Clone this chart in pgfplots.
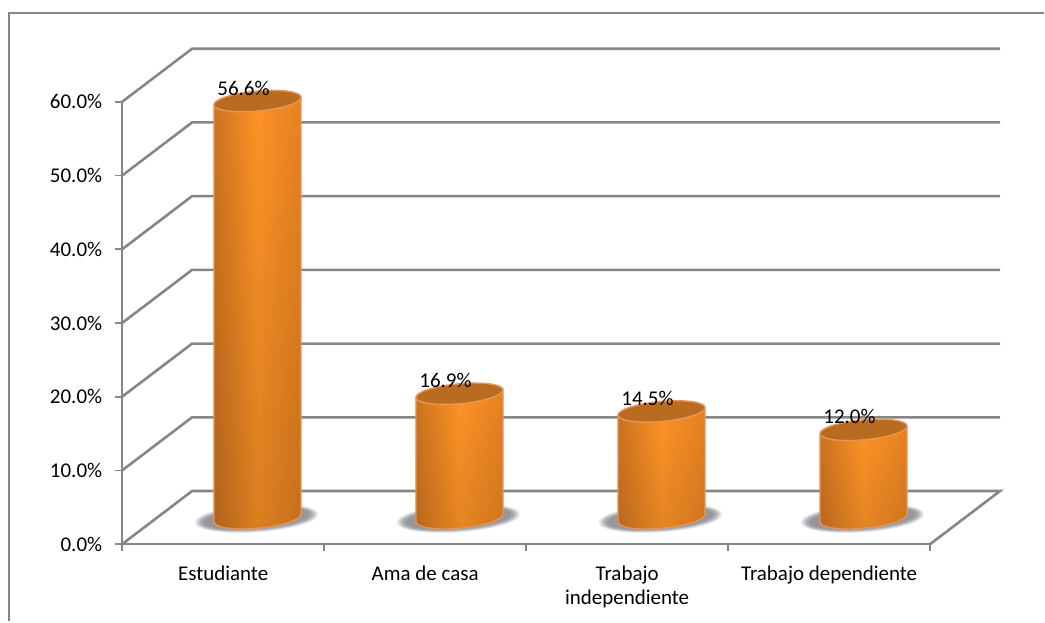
\documentclass[border=0pt]{standalone}
\usepackage{fontspec}
\setmainfont{Carlito}
\usepackage{pgfplots}
\pgfplotsset{compat=1.18}
\usetikzlibrary{fadings}
\definecolor{gridc}{HTML}{868686}
\definecolor{edgec}{HTML}{E8955A}
\definecolor{topc}{HTML}{B96B20}
\definecolor{cyla}{HTML}{99541A}
\definecolor{cylb}{HTML}{C8701F}
\definecolor{cylc}{HTML}{FF9426}
\definecolor{cyld}{HTML}{E68222}
\definecolor{cyle}{HTML}{7A4512}
\definecolor{sha}{HTML}{ECECEE}
\definecolor{shb}{HTML}{D2D2D6}
\definecolor{shc}{HTML}{BABABF}
\definecolor{shd}{HTML}{A6A6AD}
\definecolor{she}{HTML}{96969E}
\pgfdeclarehorizontalshading{cyl}{100bp}{color(0bp)=(cyla); color(22bp)=(cylb); color(50bp)=(cylc); color(75bp)=(cyld); color(100bp)=(cyle)}
\pgfdeclareplotmark{cyltop}{%
  \pgfsetfillcolor{topc}\pgfsetstrokecolor{edgec}\pgfsetlinewidth{1.4pt}%
  \pgfpathellipse{\pgfpointorigin}{\pgfpoint{43.62pt}{3.97pt}}{\pgfpoint{-0.906pt}{9.96pt}}\pgfusepathqfillstroke}
\newcommand\shadowellipse[3]{\pgfsetfillcolor{#1}\pgfpathellipse{\pgfpoint{-1pt}{0pt}}{\pgfpoint{#2pt}{4.3pt}}{\pgfpoint{-1pt}{#3pt}}\pgfusepathqfill}
\pgfdeclareplotmark{cylshadow}{%
  \shadowellipse{sha}{62}{14}\shadowellipse{shb}{60}{13.2}\shadowellipse{shc}{58}{12.4}\shadowellipse{shd}{56}{11.6}\shadowellipse{she}{53}{10.5}}
\begin{document}
\begin{tikzpicture}
% back axis: frame, walls, floor and shadows
\begin{axis}[
  hide axis,
  scale only axis, width=808.8pt, height=442.8pt,
  xmin=-0.5, xmax=3.5, ymin=0, ymax=60, clip=false,
]
\addplot[gridc,line width=2.2pt] coordinates {(-1.0603,-10.47) (-1.0603,72.05) (4.0633,72.05)};
\addplot[gridc,line width=2.6pt] coordinates {(3.5,0) (3.846,7.2) (-0.154,7.2) (-0.5,0)};
\addplot[gridc,line width=2.6pt] coordinates {(-0.5,10) (-0.154,17.2) (3.846,17.2)};
\addplot[gridc,line width=2.6pt] coordinates {(-0.5,20) (-0.154,27.2) (3.846,27.2)};
\addplot[gridc,line width=2.6pt] coordinates {(-0.5,30) (-0.154,37.2) (3.846,37.2)};
\addplot[gridc,line width=2.6pt] coordinates {(-0.5,40) (-0.154,47.2) (3.846,47.2)};
\addplot[gridc,line width=2.6pt] coordinates {(-0.5,50) (-0.154,57.2) (3.846,57.2)};
\addplot[gridc,line width=2.6pt] coordinates {(-0.5,60) (-0.154,67.2) (3.846,67.2)};
\addplot[only marks,mark=cylshadow] coordinates {(0.17,3.5) (1.17,3.5) (2.17,3.5) (3.17,3.5)};
\end{axis}
% front axis: ticks, labels and cylinders
\begin{axis}[
  scale only axis, width=808.8pt, height=442.8pt,
  xmin=-0.5, xmax=3.5, ymin=0, ymax=60, clip=false,
  axis x line*=bottom, axis y line*=left,
  axis line style={draw=gridc,line width=2.4pt,-},
  tick align=outside,
  ytick={0,10,20,30,40,50,60},
  yticklabel={\pgfmathprintnumber[fixed,fixed zerofill,precision=1,assume math mode=true]{\tick}\%},
  ytick style={draw=gridc,line width=1.8pt},
  major tick length=7pt, minor tick length=7pt,
  xtick={0,1,2,3},
  xticklabels={Estudiante,Ama de casa,{Trabajo\\independiente},Trabajo dependiente},
  minor xtick={-0.5,0.5,1.5,2.5,3.5},
  major x tick style={draw=none},
  minor x tick style={draw=gridc,line width=1.8pt},
  xticklabel style={align=center,anchor=north,yshift=-11pt,font=\fontsize{21}{24}\selectfont},
  yticklabel style={font=\fontsize{21}{24}\selectfont,xshift=-9.5pt},
  nodes near coords style={font=\fontsize{21}{24}\selectfont},
]
% cylinder bodies
\addplot[shade,shading=cyl,draw=none] coordinates {(-0.0457,59.56) (-0.0457,2.962) (-0.0312,2.533) (0.0076,2.221) (0.0660,2.062) (0.1370,2.077) (0.2118,2.264) (0.2817,2.600) (0.3381,3.045) (0.3743,3.543) (0.3857,4.038) (0.3857,60.64) (-0.0457,59.56)};
\addplot[shade,shading=cyl,draw=none] coordinates {(0.9543,19.86) (0.9543,2.962) (0.9688,2.533) (1.0076,2.221) (1.0660,2.062) (1.1370,2.077) (1.2118,2.264) (1.2817,2.600) (1.3381,3.045) (1.3743,3.543) (1.3857,4.038) (1.3857,20.94) (0.9543,19.86)};
\addplot[shade,shading=cyl,draw=none] coordinates {(1.9543,17.46) (1.9543,2.962) (1.9688,2.533) (2.0076,2.221) (2.0660,2.062) (2.1370,2.077) (2.2118,2.264) (2.2817,2.600) (2.3381,3.045) (2.3743,3.543) (2.3857,4.038) (2.3857,18.54) (1.9543,17.46)};
\addplot[shade,shading=cyl,draw=none] coordinates {(2.9543,14.96) (2.9543,2.962) (2.9688,2.533) (3.0076,2.221) (3.0660,2.062) (3.1370,2.077) (3.2118,2.264) (3.2817,2.600) (3.3381,3.045) (3.3743,3.543) (3.3857,4.038) (3.3857,16.04) (2.9543,14.96)};
% downward darkening
\addplot[fill=black,fill opacity=0.14,draw=none,path fading=north] coordinates {(-0.0457,59.56) (-0.0457,2.962) (-0.0312,2.533) (0.0076,2.221) (0.0660,2.062) (0.1370,2.077) (0.2118,2.264) (0.2817,2.600) (0.3381,3.045) (0.3743,3.543) (0.3857,4.038) (0.3857,60.64) (-0.0457,59.56)};
\addplot[fill=black,fill opacity=0.10,draw=none,path fading=north] coordinates {(0.9543,19.86) (0.9543,2.962) (0.9688,2.533) (1.0076,2.221) (1.0660,2.062) (1.1370,2.077) (1.2118,2.264) (1.2817,2.600) (1.3381,3.045) (1.3743,3.543) (1.3857,4.038) (1.3857,20.94) (0.9543,19.86)};
\addplot[fill=black,fill opacity=0.10,draw=none,path fading=north] coordinates {(1.9543,17.46) (1.9543,2.962) (1.9688,2.533) (2.0076,2.221) (2.0660,2.062) (2.1370,2.077) (2.2118,2.264) (2.2817,2.600) (2.3381,3.045) (2.3743,3.543) (2.3857,4.038) (2.3857,18.54) (1.9543,17.46)};
\addplot[fill=black,fill opacity=0.10,draw=none,path fading=north] coordinates {(2.9543,14.96) (2.9543,2.962) (2.9688,2.533) (3.0076,2.221) (3.0660,2.062) (3.1370,2.077) (3.2118,2.264) (3.2817,2.600) (3.3381,3.045) (3.3743,3.543) (3.3857,4.038) (3.3857,16.04) (2.9543,14.96)};
% body edges
\addplot[edgec,line width=1.2pt] coordinates {(-0.0457,59.56) (-0.0457,2.962) (-0.0312,2.533) (0.0076,2.221) (0.0660,2.062) (0.1370,2.077) (0.2118,2.264) (0.2817,2.600) (0.3381,3.045) (0.3743,3.543) (0.3857,4.038) (0.3857,60.64)};
\addplot[edgec,line width=1.2pt] coordinates {(0.9543,19.86) (0.9543,2.962) (0.9688,2.533) (1.0076,2.221) (1.0660,2.062) (1.1370,2.077) (1.2118,2.264) (1.2817,2.600) (1.3381,3.045) (1.3743,3.543) (1.3857,4.038) (1.3857,20.94)};
\addplot[edgec,line width=1.2pt] coordinates {(1.9543,17.46) (1.9543,2.962) (1.9688,2.533) (2.0076,2.221) (2.0660,2.062) (2.1370,2.077) (2.2118,2.264) (2.2817,2.600) (2.3381,3.045) (2.3743,3.543) (2.3857,4.038) (2.3857,18.54)};
\addplot[edgec,line width=1.2pt] coordinates {(2.9543,14.96) (2.9543,2.962) (2.9688,2.533) (3.0076,2.221) (3.0660,2.062) (3.1370,2.077) (3.2118,2.264) (3.2817,2.600) (3.3381,3.045) (3.3743,3.543) (3.3857,4.038) (3.3857,16.04)};
% cylinder tops and value labels (value = height - 3.5 floor offset)
\addplot[only marks,mark=cyltop,point meta=explicit,
  nodes near coords={\pgfmathprintnumber[fixed,fixed zerofill,precision=1,assume math mode=true]{\pgfplotspointmeta}\%},
  every node near coord/.append style={anchor=center,xshift=-14pt,yshift=13pt,text=black}]
  coordinates {(0.17,60.1)[56.6] (1.17,20.4)[16.9] (2.17,18.0)[14.5] (3.17,15.5)[12.0]};
\end{axis}
\path[use as bounding box] (-122.3pt,-77.3pt) rectangle (922.7pt,544.7pt);
\end{tikzpicture}
\end{document}
